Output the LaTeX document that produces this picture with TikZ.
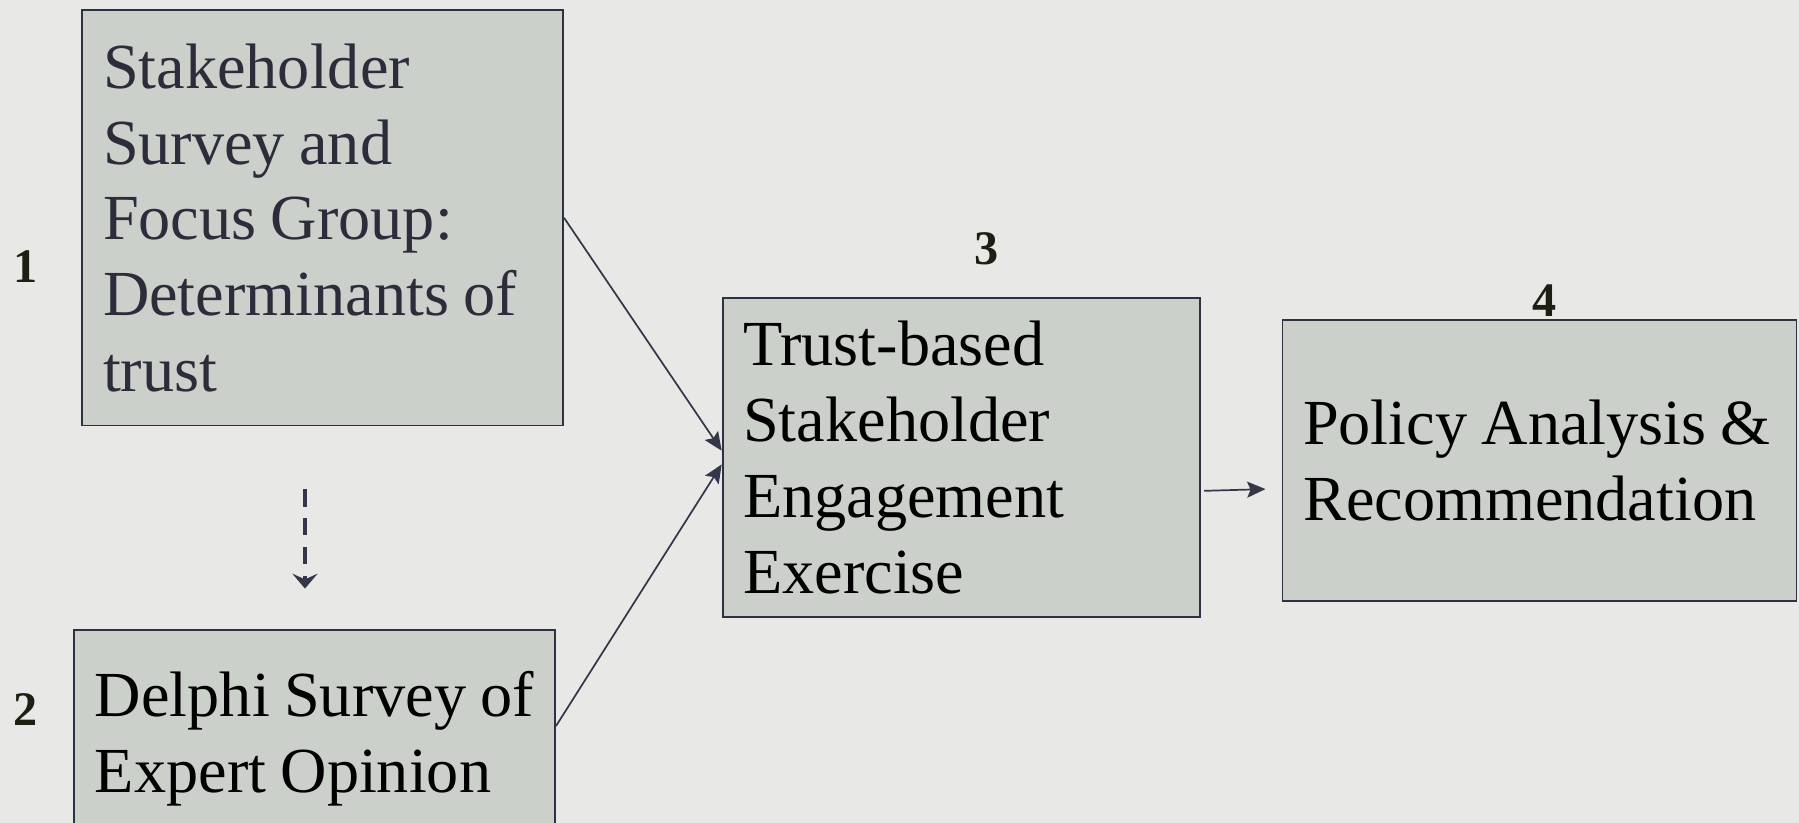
\documentclass[tikz,border=0pt]{standalone}
\usepackage{fontspec}
\setmainfont{Liberation Serif}
\usetikzlibrary{arrows.meta}
\definecolor{bg}{HTML}{E8E8E6}
\definecolor{boxfill}{HTML}{CBD0CB}
\definecolor{boxline}{HTML}{2F3142}
\definecolor{arrowc}{HTML}{34374A}
\definecolor{numc}{HTML}{1E1E12}
\definecolor{txtone}{HTML}{2C2C3A}
\newcommand{\boxline}[1]{\mbox{\spaceskip=12.5pt\relax #1}}
\begin{document}
\begin{tikzpicture}[x=1pt,y=-1pt,
  stagebox/.style={draw=boxline, line width=1.6pt, fill=boxfill, anchor=north west,
    inner xsep=18pt, inner ysep=0pt, align=left,
    font=\fontsize{56}{66}\selectfont},
  steplabel/.style={text=numc, font=\bfseries\fontsize{42}{42}\selectfont, inner sep=0pt},
  conn/.style={draw=arrowc, line width=1.5pt, -{Stealth[length=16pt,width=14pt,inset=3pt]}},
  dconn/.style={draw=arrowc, line width=3pt, dash pattern=on 15pt off 10pt, -{Stealth[length=13pt,width=22pt,inset=5pt]}}
]
\fill[bg] (0,0) rectangle (1568,717);
\useasboundingbox (0,0) rectangle (1568,717);

\node[stagebox, text=txtone, text width=383pt, minimum height=362pt] (b1) at (71,8)
  {\boxline{Stakeholder}\\\boxline{Survey and}\\\boxline{Focus Group:}\\\boxline{Determinants of}\\\boxline{trust}};
\node[stagebox, text=black, text width=383pt, minimum height=190pt] (b2) at (64,548)
  {\boxline{Delphi Survey of}\\\boxline{Expert Opinion}};
\node[stagebox, text=black, text width=380pt, minimum height=278pt] (b3) at (629,259)
  {\boxline{Trust-based}\\\boxline{Stakeholder}\\\boxline{Engagement}\\\boxline{Exercise}};
\node[stagebox, text=black, text width=412pt, minimum height=245pt] (b4) at (1117,278)
  {\boxline{Policy Analysis \&}\\\boxline{Recommendation}};

\node[steplabel] (n1) at (22,232) {1};
\node[steplabel] (n2) at (22,618) {2};
\node[steplabel] (n3) at (860,217) {3};
\node[steplabel] (n4) at (1346,262) {4};

\draw[conn] (b1.east) -- ([yshift=6pt]b3.west);
\draw[conn] ([yshift=11pt]b2.east) -- ([yshift=-6pt]b3.west);
\draw[dconn] ([xshift=-15.5pt,yshift=-55pt]b1.south) -- ([xshift=-8.5pt,yshift=35pt]b2.north);
\draw[conn] ([xshift=3pt,yshift=-29pt]b3.east) -- ([xshift=-14pt,yshift=-25pt]b4.west);
\end{tikzpicture}
\end{document}
